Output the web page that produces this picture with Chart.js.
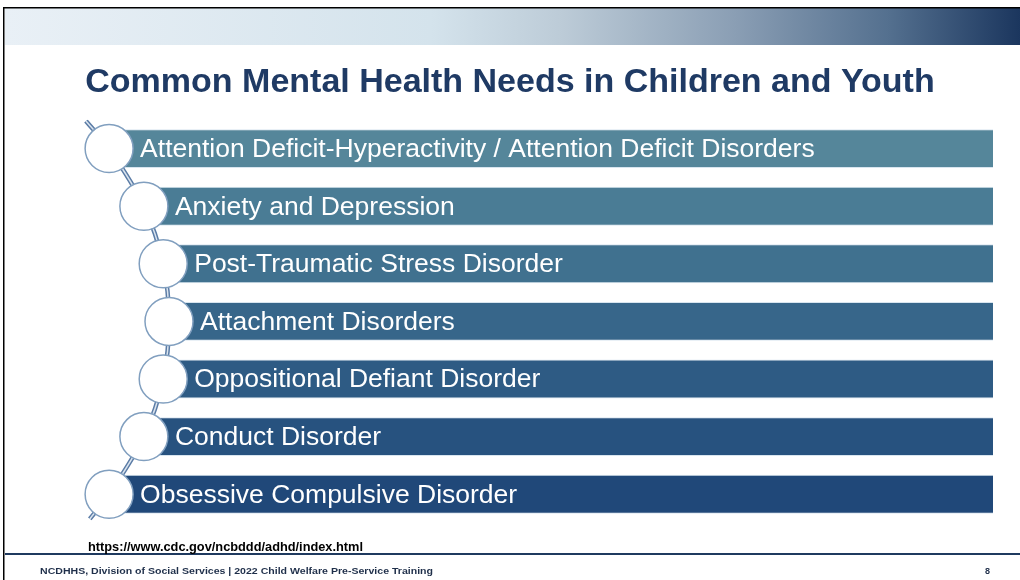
<!DOCTYPE html>
<html>
<head>
<meta charset="utf-8">
<script src="https://cdn.jsdelivr.net/npm/chart.js@4.4.1/dist/chart.umd.min.js"></script>
<style>
  html, body { margin: 0; padding: 0; background: #ffffff; }
  #wrap { position: relative; width: 1020px; height: 580px; }
</style>
</head>
<body>
<div id="wrap"><canvas id="c" width="1020" height="580"></canvas></div>
<script>
// ---- data ----
const titleText = 'Common Mental Health Needs in Children and Youth';
const categories = [
  'Attention Deficit-Hyperactivity / Attention Deficit Disorders',
  'Anxiety and Depression',
  'Post-Traumatic Stress Disorder',
  'Attachment Disorders',
  'Oppositional Defiant Disorder',
  'Conduct Disorder',
  'Obsessive Compulsive Disorder'
];
const circleX = [8.5, 12.1, 14.1, 14.7, 14.1, 12.1, 8.5];   // circle position on 0-100 scale
const barEnd = [100, 100, 100, 100, 100, 100, 100];
const connectorEndsX = [6.1, 6.5];      // loose ends of the connector line
const connectorEndsY = [-0.48, 6.43];
const sourceText = 'https://www.cdc.gov/ncbddd/adhd/index.html';
const footerText = 'NCDHHS, Division of Social Services | 2022 Child Welfare Pre-Service Training';
const pageNumber = '8';

// ---- styles ----
const barColors = ['#55869a', '#4a7c95', '#40718f', '#37668a', '#2e5b84', '#27527f', '#204879'];

const connectorPts = [{x: connectorEndsX[0], y: connectorEndsY[0]}]
  .concat(circleX.map((x, i) => ({x: x, y: i})))
  .concat([{x: connectorEndsX[1], y: connectorEndsY[1]}]);

function fitText(ctx, text, x, y, width) {
  const w = ctx.measureText(text).width;
  ctx.save();
  ctx.translate(x, y);
  ctx.scale(width / w, 1);
  ctx.fillText(text, 0, 0);
  ctx.restore();
}

const decor = {
  id: 'decor',
  beforeDraw(chart) {
    const ctx = chart.ctx, W = chart.width, H = chart.height;
    ctx.save();
    ctx.fillStyle = '#ffffff';
    ctx.fillRect(0, 0, W, H);
    const g = ctx.createLinearGradient(5, 0, W, 0);
    g.addColorStop(0, '#e9f0f6');
    g.addColorStop(0.42, '#d4e3ec');
    g.addColorStop(0.55, '#bccbd7');
    g.addColorStop(0.72, '#8a9eb4');
    g.addColorStop(0.87, '#54708f');
    g.addColorStop(1, '#1b365e');
    ctx.fillStyle = g;
    ctx.fillRect(5, 8, W - 5, 37);
    ctx.fillStyle = '#000000';
    ctx.fillRect(3, 7, W - 3, 1.5);
    ctx.fillRect(3, 7, 1.5, H - 7);
    ctx.fillStyle = '#1f3a5f';
    ctx.fillRect(5, 553, W - 5, 2);
    ctx.fillStyle = '#000000';
    ctx.textBaseline = 'middle';
    ctx.textAlign = 'left';
    ctx.font = 'bold 12px "Liberation Sans", Arial, sans-serif';
    fitText(ctx, sourceText, 88, 548, 275);
    ctx.font = 'bold 9px "Liberation Sans", Arial, sans-serif';
    ctx.fillStyle = '#1f2f4a';
    fitText(ctx, footerText, 40, 572, 393);
    ctx.fillText(pageNumber, 985, 572);
    ctx.restore();
  },
  afterDatasetsDraw(chart) {
    const ctx = chart.ctx;
    const meta = chart.getDatasetMeta(2);
    const xs = chart.scales.x;
    ctx.save();
    ctx.fillStyle = '#ffffff';
    ctx.textBaseline = 'middle';
    ctx.textAlign = 'left';
    ctx.font = '26.5px "Liberation Sans", Arial, sans-serif';
    meta.data.forEach((bar, i) => {
      const cx = xs.getPixelForValue(circleX[i]);
      ctx.fillText(categories[i], cx + 31, bar.y + 1);
    });
    ctx.restore();
  }
};

new Chart(document.getElementById('c'), {
  type: 'bar',
  data: {
    labels: categories,
    datasets: [
      {
        type: 'line', label: 'connector-outer', yAxisID: 'yl', order: 4,
        data: connectorPts, borderColor: '#5b7ca6', borderWidth: 4.5,
        pointRadius: 0, tension: 0.35, fill: false
      },
      {
        type: 'line', label: 'connector-inner', yAxisID: 'yl', order: 3,
        data: connectorPts, borderColor: '#d9e3ee', borderWidth: 1.5,
        pointRadius: 0, tension: 0.35, fill: false
      },
      {
        type: 'bar', label: 'items', indexAxis: 'y', order: 2,
        data: circleX.map((x, i) => [x, barEnd[i]]),
        backgroundColor: barColors,
        borderColor: 'rgba(200,218,232,0.7)',
        borderWidth: {top: 1, bottom: 1, left: 0, right: 0},
        borderSkipped: false,
        barPercentage: 0.675, categoryPercentage: 1
      },
      {
        type: 'scatter', label: 'circles', order: 1,
        data: circleX.map((x, i) => ({x: x, y: categories[i]})),
        pointRadius: 24, pointHoverRadius: 24,
        pointBackgroundColor: '#ffffff', pointBorderColor: '#819fbf', pointBorderWidth: 1.5
      }
    ]
  },
  options: {
    responsive: false,
    animation: false,
    events: [],
    layout: { autoPadding: false, padding: { left: 27, right: 27, top: 0, bottom: 57 } },
    scales: {
      x: { type: 'linear', min: 0, max: 100, offset: false, display: false },
      y: { type: 'category', labels: categories, offset: true, display: false },
      yl: { type: 'linear', axis: 'y', min: -0.5, max: 6.5, reverse: true, offset: false, display: false }
    },
    plugins: {
      legend: { display: false },
      tooltip: { enabled: false },
      title: {
        display: true, text: titleText, color: '#1f3a64',
        font: { family: '"Liberation Sans", Arial, sans-serif', size: 34, weight: 'bold', lineHeight: 1.2 },
        padding: { top: 62, bottom: 17 }
      }
    }
  },
  plugins: [decor]
});
</script>
</body>
</html>
